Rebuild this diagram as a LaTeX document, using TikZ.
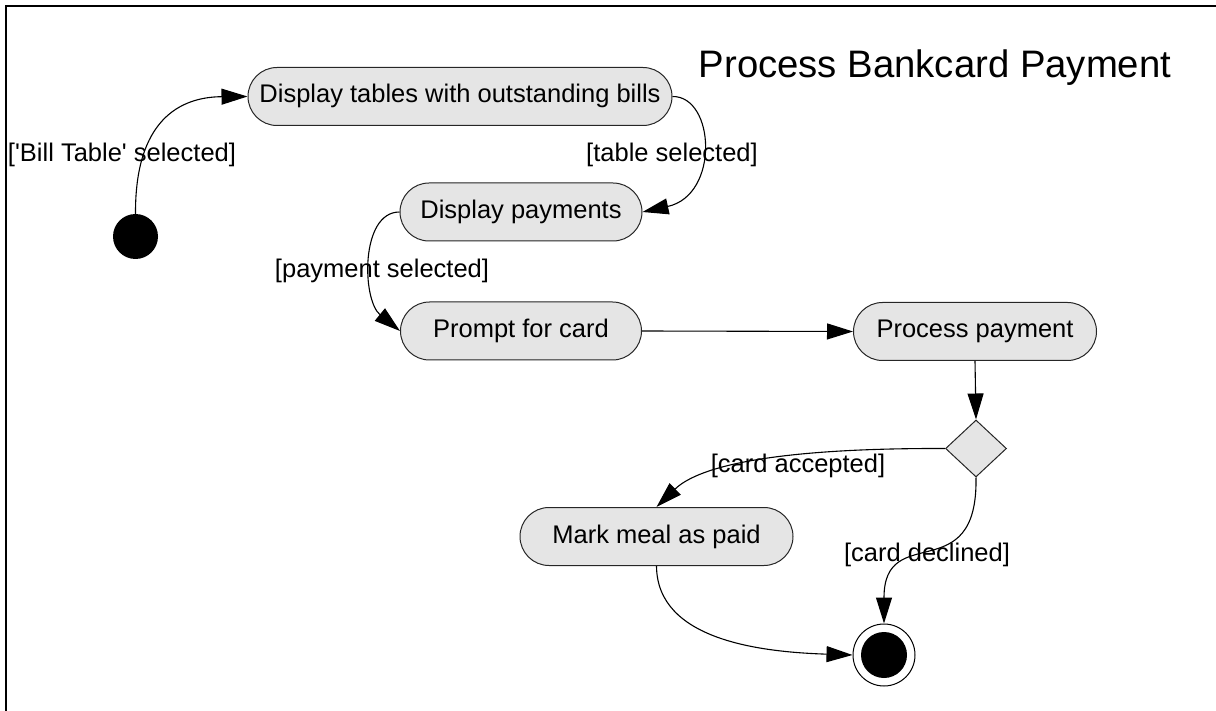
\documentclass[tikz,border=0pt]{standalone}
\usepackage{fontspec}
\setmainfont{Liberation Sans}
\usetikzlibrary{arrows.meta,shapes.geometric}
\begin{document}
\begin{tikzpicture}[x=1pt,y=-1pt,
  every node/.style={font=\fontsize{25.5}{30}\selectfont},
  action/.style={draw=black!85, line width=1pt, fill=black!10,
    rounded corners=29pt, minimum height=58pt, inner sep=0pt,
    text height=18pt, text depth=5pt},
  decision/.style={diamond, draw=black!85, line width=1pt, fill=black!10,
    minimum width=61pt, minimum height=57pt, inner sep=0pt},
  flow/.style={draw=black, line width=1.1pt,
    -{Triangle[length=26pt,width=16pt]}},
  guard/.style={anchor=base, inner sep=0pt}]

\useasboundingbox (0,0) rectangle (1216,711);

% diagram frame (only its top-left part lies in view)
\draw[line width=2pt] (6,711) -- (6,6.5) -- (1216,6.5);

\node[anchor=base, font=\fontsize{38.3}{45}\selectfont] (title) at (935,78)
  {Process Bankcard Payment};

% states
\node[circle, fill=black, minimum size=45pt, inner sep=0pt] (init) at (135.5,236.5) {};
\node[action, minimum width=424pt] (A1) at (460,96.5) {Display tables with outstanding bills};
\node[action, minimum width=242pt] (A2) at (521,212) {Display payments};
\node[action, minimum width=241pt] (A3) at (521,331) {Prompt for card};
\node[action, minimum width=243pt] (A4) at (975,331.5) {Process payment};
\node[decision] (dec) at (976,448.5) {};
\node[action, minimum width=273pt] (A5) at (656.5,536.5) {Mark meal as paid};
\node[circle, draw=black, line width=1pt, fill=white, minimum size=62pt, inner sep=0pt] (final) at (884,655) {};
\node[circle, fill=black, minimum size=46pt, inner sep=0pt] (finaldot) at (final) {};

% transitions
\draw[flow] (init.north) .. controls (135,120) and (180,97) .. (A1.west);
\draw[flow] (A1.east) .. controls (715,96) and (720,195) .. (A2.east);
\draw[flow] (A2.west) .. controls (360,212) and (362,300) .. (A3.west);
\draw[flow] (A3.east) -- (A4.west);
\draw[flow] (A4.south) -- (dec.north);
\draw[flow] (dec.west) .. controls (780,448) and (700,465) .. (A5.north);
\draw[flow] (dec.south) .. controls (978,590) and (884,520) .. (final.north);
\draw[flow] (A5.south) .. controls (657,640) and (760,652) .. (final.west);

% guard labels
\node[guard] (g1) at (122,162) {[\textquotesingle Bill Table\textquotesingle{} selected]};
\node[guard] (g2) at (672,162) {[table selected]};
\node[guard] (g3) at (382,278) {[payment selected]};
\node[guard] (g4) at (798,472) {[card accepted]};
\node[guard] (g5) at (927,561) {[card declined]};
\end{tikzpicture}
\end{document}
